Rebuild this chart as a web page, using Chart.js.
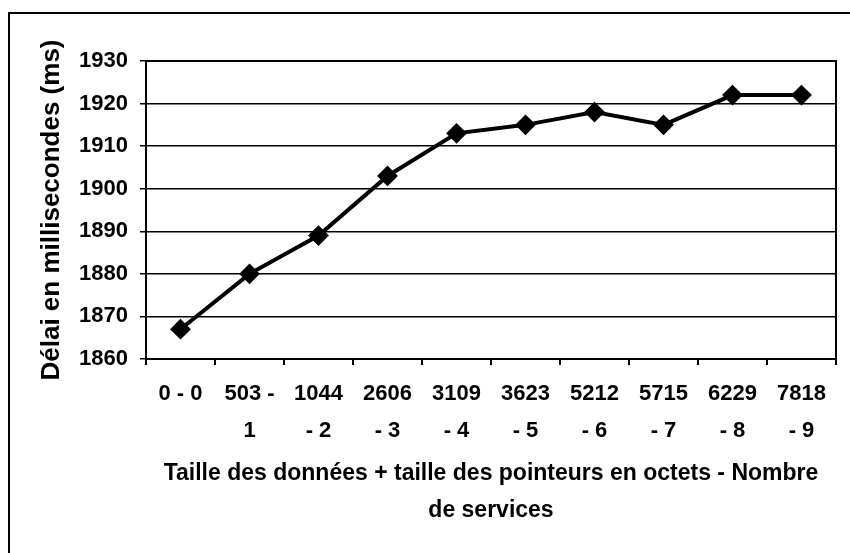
<!DOCTYPE html>
<html>
<head>
<meta charset="utf-8">
<script src="https://cdn.jsdelivr.net/npm/chart.js@4"></script>
<style>
  html, body { margin: 0; padding: 0; background: #fff; }
  #wrap { width: 850px; height: 553px; position: relative; }
</style>
</head>
<body>
<div id="wrap"><canvas id="graphique"></canvas></div>
<script>
// données
const categories = [
  ['0 - 0'], ['503 -', '1'], ['1044', '- 2'], ['2606', '- 3'], ['3109', '- 4'],
  ['3623', '- 5'], ['5212', '- 6'], ['5715', '- 7'], ['6229', '- 8'], ['7818', '- 9']
];
const delais = [1867, 1880, 1889, 1903, 1913, 1915, 1918, 1915, 1922, 1922];
const yMin = 1860;
const yMax = 1930;
const yPas = 10;

const titreY = 'Délai en millisecondes (ms)';
const titreX = ['Taille des données + taille des pointeurs en octets - Nombre', 'de services'];

// cadre extérieur + bordure de la zone de tracé
const cadre = {
  id: 'cadre',
  afterDraw(chart) {
    const { ctx, chartArea } = chart;
    ctx.save();
    ctx.strokeStyle = '#000';
    ctx.lineWidth = 2;
    ctx.beginPath();
    ctx.moveTo(9, 553);
    ctx.lineTo(9, 13);
    ctx.lineTo(850, 13);
    ctx.stroke();
    ctx.strokeRect(chartArea.left, chartArea.top, chartArea.right - chartArea.left, chartArea.bottom - chartArea.top);
    ctx.restore();
  }
};

const police = 'Liberation Sans, Arial, sans-serif';

new Chart(document.getElementById('graphique'), {
  type: 'line',
  data: {
    labels: categories,
    datasets: [{
      data: delais,
      borderColor: '#000',
      backgroundColor: '#000',
      borderWidth: 4,
      pointStyle: 'rectRot',
      pointRadius: 9,
      pointBorderWidth: 2,
      pointBackgroundColor: '#000',
      pointBorderColor: '#000',
      tension: 0
    }]
  },
  options: {
    responsive: true,
    maintainAspectRatio: false,
    animation: false,
    layout: { padding: { left: 30, top: 61, right: 14, bottom: 24 } },
    plugins: {
      legend: { display: false },
      tooltip: { enabled: false }
    },
    scales: {
      x: {
        offset: true,
        grid: { offset: true, drawOnChartArea: false, drawTicks: true, tickLength: 6, color: '#000', lineWidth: 2 },
        border: { color: '#000', width: 2 },
        ticks: {
          color: '#000',
          padding: 10,
          maxRotation: 0,
          autoSkip: false,
          font: { family: police, size: 22, weight: 'bold', lineHeight: 1.68 }
        },
        title: {
          display: true,
          text: titreX,
          color: '#000',
          padding: { top: 0, bottom: 0 },
          font: { family: police, size: 23, weight: 'bold', lineHeight: 1.61 }
        },
        afterFit(scale) { scale.height = 170; }
      },
      y: {
        min: yMin,
        max: yMax,
        grid: { color: '#000', lineWidth: 1.5, tickLength: 6 },
        border: { color: '#000', width: 2 },
        ticks: {
          stepSize: yPas,
          color: '#000',
          padding: 12,
          callback: v => String(v),
          font: { family: police, size: 22, weight: 'bold' }
        },
        title: {
          display: true,
          text: titreY,
          color: '#000',
          padding: { top: 6, bottom: 0 },
          font: { family: police, size: 26, weight: 'bold' }
        },
        afterFit(scale) { scale.width = 116; }
      }
    }
  },
  plugins: [cadre]
});
</script>
</body>
</html>
